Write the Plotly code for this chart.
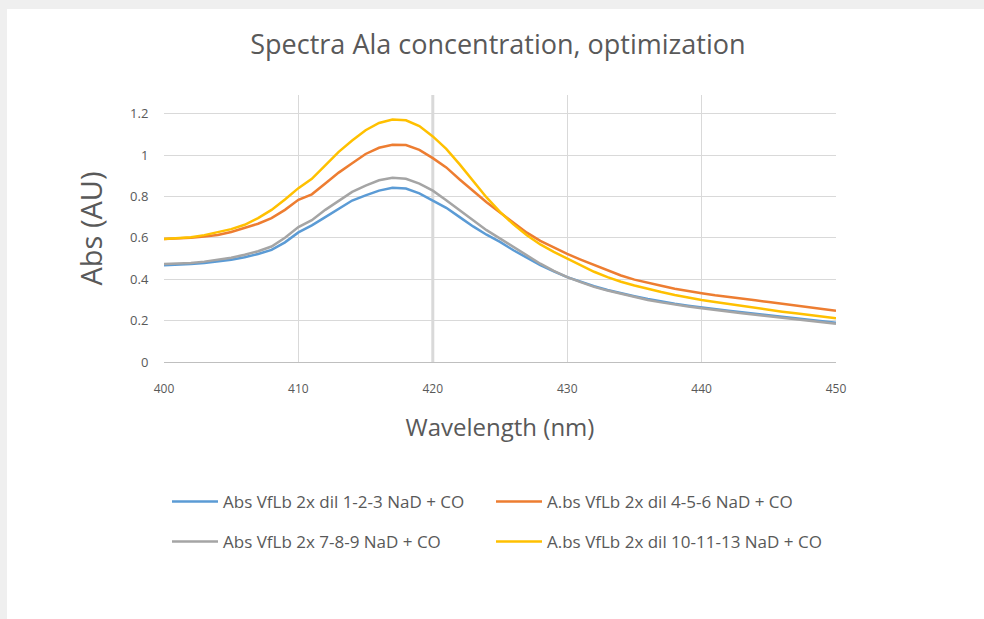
import plotly.graph_objects as go

wavelength = list(range(400, 451))

abs_1_2_3 = [0.467, 0.469, 0.473, 0.478, 0.485, 0.494, 0.506, 0.522, 0.542, 0.578,
             0.626, 0.660, 0.700, 0.740, 0.780, 0.805, 0.828, 0.842, 0.838, 0.815,
             0.782, 0.745, 0.700, 0.655, 0.615, 0.580, 0.540, 0.502, 0.468, 0.438,
             0.410, 0.388, 0.366, 0.348, 0.332, 0.318, 0.304, 0.292, 0.281, 0.272,
             0.265, 0.256, 0.248, 0.240, 0.233, 0.226, 0.219, 0.212, 0.205, 0.198, 0.190]

abs_4_5_6 = [0.594, 0.596, 0.600, 0.606, 0.614, 0.628, 0.647, 0.668, 0.695, 0.735,
             0.784, 0.810, 0.862, 0.915, 0.960, 1.005, 1.035, 1.050, 1.048, 1.025,
             0.985, 0.940, 0.882, 0.825, 0.772, 0.722, 0.672, 0.625, 0.585, 0.552,
             0.522, 0.495, 0.468, 0.442, 0.418, 0.398, 0.382, 0.368, 0.354, 0.342,
             0.332, 0.322, 0.313, 0.305, 0.298, 0.290, 0.282, 0.274, 0.266, 0.258, 0.248]

abs_7_8_9 = [0.473, 0.475, 0.478, 0.485, 0.493, 0.504, 0.518, 0.535, 0.558, 0.600,
             0.652, 0.685, 0.735, 0.780, 0.822, 0.852, 0.878, 0.890, 0.885, 0.862,
             0.828, 0.782, 0.732, 0.685, 0.637, 0.596, 0.555, 0.512, 0.475, 0.440,
             0.410, 0.386, 0.363, 0.345, 0.329, 0.314, 0.300, 0.288, 0.277, 0.268,
             0.260, 0.251, 0.243, 0.235, 0.228, 0.221, 0.214, 0.207, 0.200, 0.192, 0.185]

abs_10_11_13 = [0.594, 0.597, 0.603, 0.613, 0.626, 0.642, 0.663, 0.695, 0.735, 0.785,
                0.840, 0.885, 0.950, 1.015, 1.070, 1.120, 1.155, 1.172, 1.168, 1.140,
                1.090, 1.030, 0.955, 0.875, 0.795, 0.725, 0.665, 0.612, 0.568, 0.532,
                0.500, 0.466, 0.436, 0.410, 0.388, 0.370, 0.353, 0.338, 0.324, 0.311,
                0.300, 0.290, 0.280, 0.270, 0.261, 0.252, 0.243, 0.235, 0.227, 0.219, 0.211]

series_names = ["Abs VfLb 2x dil 1-2-3 NaD + CO",
                "A.bs VfLb 2x dil 4-5-6 NaD + CO",
                "Abs VfLb 2x 7-8-9 NaD + CO",
                "A.bs VfLb 2x dil 10-11-13 NaD + CO"]
series_values = [abs_1_2_3, abs_4_5_6, abs_7_8_9, abs_10_11_13]
series_colors = ["#5B9BD5", "#ED7D31", "#A5A5A5", "#FFC000"]
series_legend = ["legend", "legend2", "legend3", "legend4"]

x_ticks = [400, 410, 420, 430, 440, 450]
y_ticks = [0, 0.2, 0.4, 0.6, 0.8, 1.0, 1.2]
y_tick_labels = ["0", "0.2", "0.4", "0.6", "0.8", "1", "1.2"]

fig = go.Figure()
for name, vals, col, lg in zip(series_names, series_values, series_colors, series_legend):
    fig.add_trace(go.Scatter(x=wavelength, y=vals, mode="lines", name=name, showlegend=True,
                             line=dict(color=col, width=2.5), legend=lg))

W, H = 984, 619
L, R, T, B = 164, 148, 95, 257
pw, ph = W - L - R, H - T - B

def px_x(p):
    return (p - L) / pw

def px_y(q):
    return (H - B - q) / ph

legend_font = dict(family="Open Sans, sans-serif", size=17, color="#595959")

def legend_box(left, top):
    return dict(orientation="h", x=px_x(left), xanchor="left", y=px_y(top), yanchor="top",
                itemwidth=46, font=legend_font, bgcolor="rgba(0,0,0,0)", visible=True)

fig.update_layout(
    width=W, height=H,
    showlegend=True,
    margin=dict(l=L, r=R, t=T, b=B),
    paper_bgcolor="white", plot_bgcolor="white",
    title=dict(text="Spectra Ala concentration, optimization", x=0.506, xanchor="center",
               y=1 - 45 / H, yanchor="middle", yref="container",
               font=dict(family="Open Sans, sans-serif", size=27, color="#595959")),
    xaxis=dict(range=[400, 450], tickvals=x_ticks, ticktext=[str(t) for t in x_ticks],
               showgrid=True, gridcolor="#D9D9D9", gridwidth=1,
               showline=True, linecolor="#BFBFBF", linewidth=1, mirror=False,
               ticks="outside", ticklen=16, tickcolor="rgba(0,0,0,0)",
               tickfont=dict(family="Open Sans, sans-serif", size=12, color="#595959"),
               zeroline=False,
               title=dict(text="Wavelength (nm)", standoff=22,
                          font=dict(family="Open Sans, sans-serif", size=24, color="#595959"))),
    yaxis=dict(range=[0, 1.29], tickvals=y_ticks, ticktext=y_tick_labels,
               showgrid=True, gridcolor="#D9D9D9", gridwidth=1,
               showline=False, zeroline=False,
               ticks="outside", ticklen=12, tickcolor="rgba(0,0,0,0)",
               tickfont=dict(family="Open Sans, sans-serif", size=13, color="#595959"),
               title=dict(text="Abs (AU)", standoff=18,
                          font=dict(family="Open Sans, sans-serif", size=29, color="#595959"))),
    legend=legend_box(167, 484),
    legend2=legend_box(491, 484),
    legend3=legend_box(167, 524),
    legend4=legend_box(491, 524),
    shapes=[
        dict(type="rect", xref="paper", yref="paper", x0=px_x(0), x1=px_x(W), y0=px_y(9), y1=px_y(0),
             fillcolor="#EFEFEF", line=dict(width=0), layer="below"),
        dict(type="rect", xref="paper", yref="paper", x0=px_x(0), x1=px_x(7), y0=px_y(H), y1=px_y(0),
             fillcolor="#EFEFEF", line=dict(width=0), layer="below"),
        dict(type="line", xref="x", yref="paper", x0=420, x1=420, y0=0, y1=1,
             line=dict(color="#D9D9D9", width=3), layer="below"),
    ],
)

fig.write_html("out.html", config={"displayModeBar": False},
               post_script="document.body.style.margin='0';")
